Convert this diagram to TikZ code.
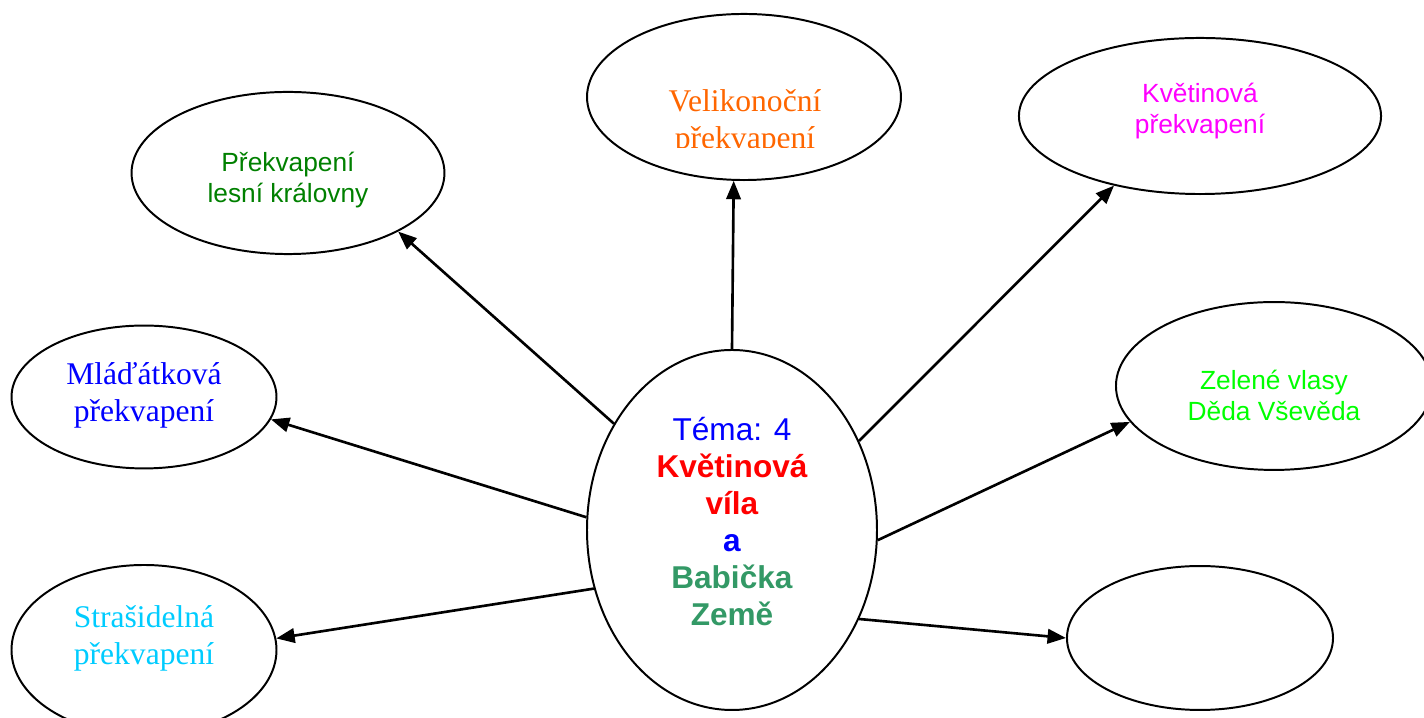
\documentclass[tikz,border=0pt]{standalone}
\usepackage{fontspec}
\setmainfont{Liberation Serif}
\setsansfont{Liberation Sans}
\usepackage{xcolor}
\usepackage{tikz}
\usetikzlibrary{shapes,arrows.meta,positioning}

\definecolor{easterorange}{HTML}{FF6600}
\definecolor{forestgreen}{HTML}{008000}
\definecolor{flowermagenta}{HTML}{FF00FF}
\definecolor{hairlime}{HTML}{00FF00}
\definecolor{babyblue}{HTML}{0000FF}
\definecolor{ghostcyan}{HTML}{00CCFF}
\definecolor{fairyred}{HTML}{FF0000}
\definecolor{earthgreen}{HTML}{339966}

\tikzset{
    bubble/.style={draw, ellipse, line width=0.75pt, inner sep=0pt},
    link/.style={-{Triangle[length=7pt,width=5.5pt]}, line width=1pt},
    sanstext/.style={font=\sffamily\fontsize{10}{11.8}\selectfont, align=center, inner sep=0pt},
    seriftext/.style={font=\rmfamily\fontsize{12}{14}\selectfont, align=center, inner sep=0pt},
}

\begin{document}
\begin{tikzpicture}[x=0.38pt, y=-0.38pt]
                \useasboundingbox (0,0) rectangle (1424,718);

                % centre of the map
                \node[
                    bubble,
                    minimum width=110.2pt,
                    minimum height=136.8pt
                    ] (tema) at (732,530) {};

                \node[
                    align=center,
                    inner sep=0pt,
                    font=\sffamily\fontsize{12}{14.06}\selectfont
                    ] (tema-t) at (732,522) {\textcolor{babyblue}{Téma: 4}\\
                    \textcolor{fairyred}{\textbf{Květinová}}\\
                    \textcolor{fairyred}{\textbf{víla}}\\
                    \textcolor{babyblue}{\textbf{a}}\\
                    \textcolor{earthgreen}{\textbf{Babička}}\\
                    \textcolor{earthgreen}{\textbf{Země}}};

                % surrounding topics
                \node[
                    bubble,
                    minimum width=119.3pt,
                    minimum height=63.1pt
                    ] (easter) at (744,97) {};

                \begin{scope}
                    \clip (587,0) rectangle (901,148);
                    \node[
                        seriftext,
                        text=easterorange
                        ] (easter-t) at (745,122) {Velikonoční\\překvapení};
                \end{scope}

                \node[
                    bubble,
                    minimum width=118.9pt,
                    minimum height=61.6pt
                    ] (forest) at (288,173) {};

                \node[
                    sanstext,
                    text=forestgreen
                    ] (forest-t) at (288,180) {Překvapení\\lesní královny};

                \node[
                    bubble,
                    minimum width=137.6pt,
                    minimum height=59.3pt
                    ] (flower) at (1200,116) {};

                \node[
                    sanstext,
                    text=flowermagenta
                    ] (flower-t) at (1200,111) {Květinová\\překvapení};

                \node[
                    bubble,
                    minimum width=100.7pt,
                    minimum height=54.3pt
                    ] (baby) at (144,397) {};

                \node[
                    seriftext,
                    text=babyblue
                    ] (baby-t) at (144,395) {Mláďátková\\překvapení};

                \node[
                    bubble,
                    minimum width=120.1pt,
                    minimum height=63.8pt
                    ] (hair) at (1274,386) {};

                \node[
                    sanstext,
                    text=hairlime
                    ] (hair-t) at (1274,395.5) {Zelené vlasy\\Děda Vševěda};

                \node[
                    bubble,
                    minimum width=100.7pt,
                    minimum height=64.6pt
                    ] (ghost) at (144,650) {};

                \node[
                    seriftext,
                    text=ghostcyan
                    ] (ghost-t) at (144,638) {Strašidelná\\překvapení};

                \node[
                    bubble,
                    minimum width=101.1pt,
                    minimum height=54.7pt
                    ] (blank) at (1200,638) {};

                % arrows from the centre
                \draw[link] (tema.138) to (forest.-28);
                \draw[link] (tema.90) to (easter.-97);
                \draw[link] (tema.35.5) to (flower.-141);
                \draw[link] (tema.175) to (baby.-10.6);
                \draw[link] (tema.-4.8) to (hair.194);
                \draw[link] (tema.-157) to (ghost.5.6);
                \draw[link] (tema.-35) to (blank.180);

\end{tikzpicture}
\end{document}
